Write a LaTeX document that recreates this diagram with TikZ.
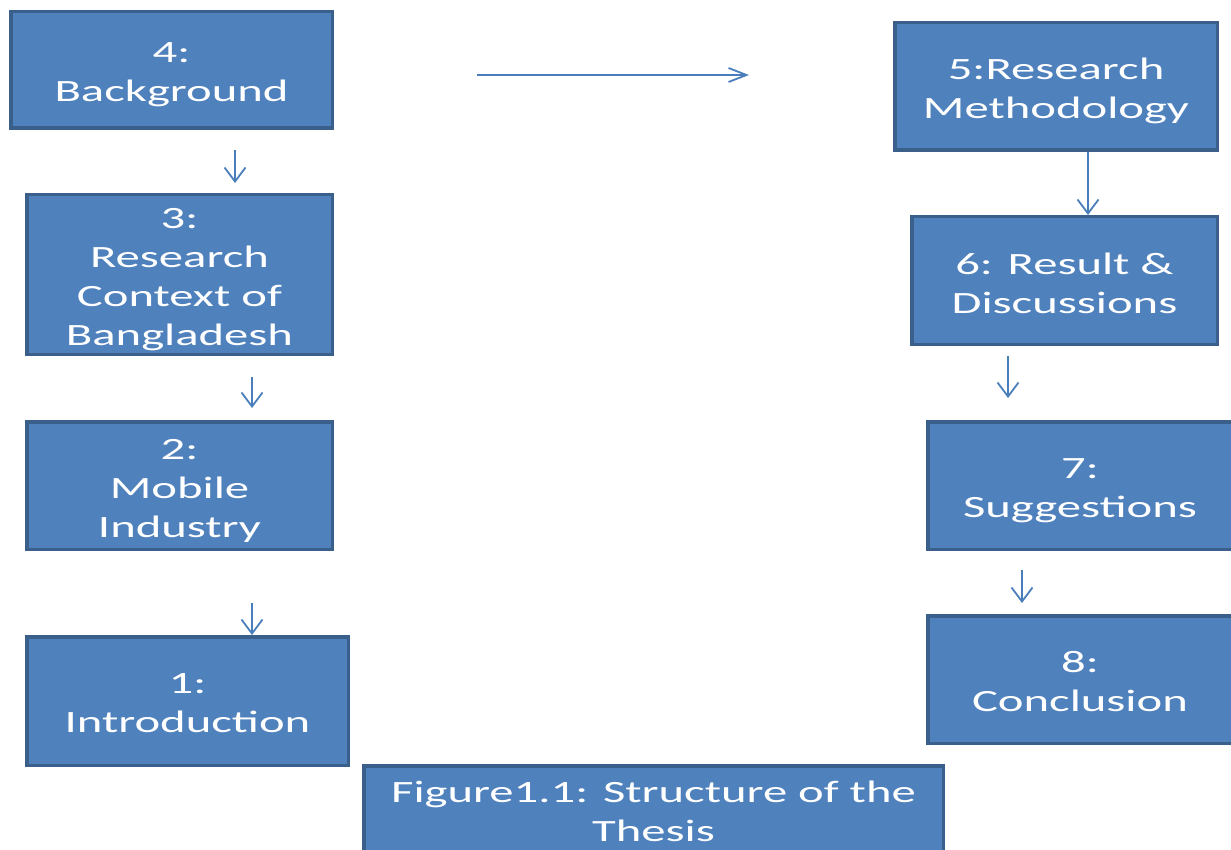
\documentclass[tikz,border=0pt]{standalone}
\usepackage{fontspec}
\setmainfont{Carlito}[FakeStretch=1.57]
\usetikzlibrary{arrows.meta}
\definecolor{boxfill}{HTML}{4F81BD}
\definecolor{boxline}{HTML}{3A5F8B}
\definecolor{arrcol}{HTML}{4A7EBB}
\begin{document}
\begin{tikzpicture}[x=1pt,y=-1pt,
  blk/.style={draw=boxline,fill=boxfill,line width=3.5pt,inner sep=0pt},
  txt/.style={text=white,align=center,inner sep=0pt,font=\fontsize{31}{39}\selectfont},
  varr/.style={draw=arrcol,line width=1.8pt,-{Straight Barb[length=14pt,width=21pt,line width=1.8pt]}},
  harr/.style={draw=arrcol,line width=1.8pt,-{Straight Barb[length=18pt,width=14pt,line width=1.8pt]}}]
\useasboundingbox (0,0) rectangle (1231,850);
\fill[white] (0,0) rectangle (1231,850);
% left column
\node[blk,minimum width=321.5pt,minimum height=116.5pt] (b4) at (171.5,70) {};
\node[txt] (t4) at ([yshift=-5pt]b4.center) {4:\\Background};
\node[blk,minimum width=305.5pt,minimum height=159.5pt] (b3) at (179.5,274.5) {};
\node[txt] (t3) at ([yshift=-5pt]b3.center) {3:\\Research\\Context of\\Bangladesh};
\node[blk,minimum width=305.5pt,minimum height=127.5pt] (b2) at (179.5,485.5) {};
\node[txt] (t2) at ([yshift=-5pt]b2.center) {2:\\Mobile\\Industry};
\node[blk,minimum width=321.5pt,minimum height=128.5pt] (b1) at (187.5,701) {};
\node[txt] (t1) at ([yshift=-2pt]b1.center) {1:\\Introduction};
% right column
\node[blk,minimum width=322.5pt,minimum height=127.5pt] (b5) at (1056,86.5) {};
\node[txt] (t5) at ([yshift=-4pt]b5.center) {5:Research\\Methodology};
\node[blk,minimum width=305.5pt,minimum height=127.5pt] (b6) at (1064.5,280.5) {};
\node[txt] (t6) at ([yshift=-3pt]b6.center) {6: Result \&\\Discussions};
\node[blk,minimum width=304.5pt,minimum height=127.5pt] (b7) at (1080,485.5) {};
\node[txt] (t7) at ([yshift=-5pt]b7.center) {7:\\Suggestions};
\node[blk,minimum width=304.5pt,minimum height=127.5pt] (b8) at (1080,679.5) {};
\node[txt] (t8) at ([yshift=-2pt]b8.center) {8:\\Conclusion};
% caption
\node[blk,minimum width=579.5pt,minimum height=100.5pt] (cap) at (653.5,816) {};
\node[txt] (tcap) at ([yshift=5pt]cap.center) {Figure1.1: Structure of the\\Thesis};
% arrow end points
\coordinate (a43s) at (235,150);
\coordinate (a43e) at (235,183);
\coordinate (a32s) at (252,377);
\coordinate (a32e) at (252,408);
\coordinate (a21s) at (252,603);
\coordinate (a45s) at (477,75);
\coordinate (a45e) at (749,75);
\coordinate (a67s) at (1008,356);
\coordinate (a67e) at (1008,398);
\coordinate (a78s) at (1022,570);
\coordinate (a78e) at (1022,603);
\draw[varr] (a43s) -- (a43e);
\draw[varr] (a32s) -- (a32e);
\draw[varr] (a21s) -- (a21s |- b1.north);
\draw[harr] (a45s) -- (a45e);
\draw[varr] (b5.south -| 1088,0) -- (b6.north -| 1088,0);
\draw[varr] (a67s) -- (a67e);
\draw[varr] (a78s) -- (a78e);
\end{tikzpicture}
\end{document}
